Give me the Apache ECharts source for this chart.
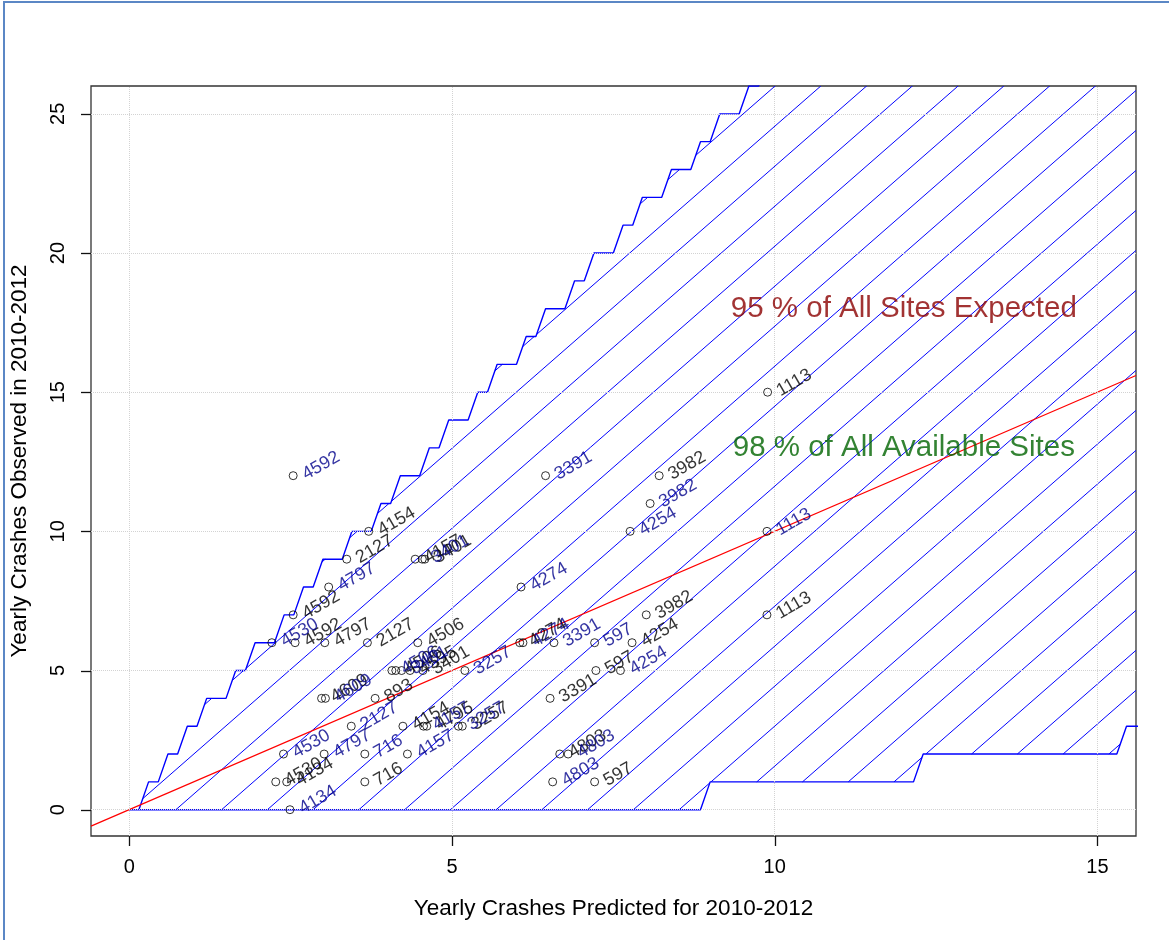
<!DOCTYPE html>
<html>
<head>
<meta charset="utf-8">
<script src="https://cdn.jsdelivr.net/npm/echarts@6/dist/echarts.min.js"></script>
<style>
html,body{margin:0;padding:0;background:#fff;}
#chart{width:1169px;height:940px;}
</style>
</head>
<body>
<div id="chart"></div>
<script>
// ---------------- data ----------------
const xTicks = [0, 5, 10, 15];
const yTicks = [0, 5, 10, 15, 20, 25];
const xTitle = 'Yearly Crashes Predicted for 2010-2012';
const yTitle = 'Yearly Crashes Observed in 2010-2012';

// band limits evaluated on a grid of predicted values (step 0.15)
const gridStep = 0.15;
const upperLimit = [0,0,1,1,2,2,3,3,4,4,4,5,5,6,6,6,7,7,8,8,9,9,9,10,10,10,11,11,12,12,12,13,13,14,14,14,15,15,16,16,16,17,17,18,18,18,19,19,20,20,20,21,21,22,22,22,23,23,23,24,24,25,25,25,26,26,27,27,27,28,28,29,29,29,30,30,31,31,31,32,32,33,33,33,34,34,35,35,35,36,36,37,37,37,38,38,39,39,39,40,40,41,41,41,42,42];
const lowerLimit = [0,0,0,0,0,0,0,0,0,0,0,0,0,0,0,0,0,0,0,0,0,0,0,0,0,0,0,0,0,0,0,0,0,0,0,0,0,0,0,0,0,0,0,0,0,0,0,0,0,0,0,0,0,0,0,0,0,0,0,0,1,1,1,1,1,1,1,1,1,1,1,1,1,1,1,1,1,1,1,1,1,1,2,2,2,2,2,2,2,2,2,2,2,2,2,2,2,2,2,2,2,2,2,3,3,3];

// sites, black labels
const blackX     = [9.89, 9.88, 8.21, 8.01, 3.71, 3.37, 3.69, 4.43, 4.58, 2.54, 2.57, 3.03, 4.47, 6.05, 7.79, 7.23, 7.21, 3.81, 6.52, 2.98, 4.24, 4.61, 5.16, 6.67, 2.27, 2.44, 3.65, 4.13, 4.35, 4.55];
const blackY     = [15, 7, 12, 7, 10, 9, 6, 9, 9, 7, 6, 6, 6, 6, 6, 5, 1, 4, 4, 4, 3, 3, 3, 2, 1, 1, 1, 5, 5, 5];
const blackLabel = ['1113','1113','3982','3982','4154','2127','2127','4157','3401','4592','4592','4797','4506','4274','4254','597','597','893','3391','4609','4154','4795','3257','4803','4530','4134','716','4506','4595','3401'];
// sites, blue labels
const blueX     = [2.54, 6.45, 6.58, 8.07, 7.76, 7.61, 9.88, 4.54, 3.09, 6.07, 6.10, 2.21, 2.39, 7.21, 5.20, 5.10, 3.04, 3.44, 3.65, 4.31, 4.56, 3.02, 6.80, 6.56, 2.49, 4.07, 4.22];
const blueY     = [12, 12, 6, 11, 10, 5, 10, 9, 8, 8, 6, 6, 2, 6, 5, 3, 4, 3, 2, 2, 3, 2, 2, 1, 0, 5, 5];
const blueLabel = ['4592','3391','3391','3982','4254','4254','1113','3401','4797','4274','4274','4530','4530','597','3257','3257','4609','2127','716','4157','4157','4797','4803','4803','4134','4506','3401'];

const noteText  = ['95 % of All Sites Expected', '98 % of All Available Sites'];
const noteX     = [12, 12];
const noteY     = [18, 13];
const noteColor = ['#8B0000', '#006400'];

// ---------------- layout / style ----------------
const X_MIN = -0.592, X_MAX = 15.597, Y_MIN = -0.945, Y_MAX = 26.0;
const FONT = 'Liberation Sans, Arial, sans-serif';
const HATCH_SLOPE = 2.027;     // data units of y per unit of x
const HATCH_SPACING = 0.7088;  // along x
const HATCH_PHASE = 0.0139;
const TICK_LEN = 10;

// polygon (upper limit left->right, lower limit right->left)
const poly = [];
upperLimit.forEach((v, k) => poly.push([+(k * gridStep).toFixed(4), v]));
for (let k = lowerLimit.length - 1; k >= 0; k--) poly.push([+(k * gridStep).toFixed(4), lowerLimit[k]]);

function hatch(poly, m, sp, ph) {
  const segs = [];
  const cs = poly.map(p => p[0] - p[1] / m);
  const cmin = Math.min(...cs), cmax = Math.max(...cs);
  const n0 = Math.ceil((cmin - ph) / sp), n1 = Math.floor((cmax - ph) / sp);
  for (let n = n0; n <= n1; n++) {
    const c = ph + n * sp;
    const xs = [];
    for (let i = 0; i < poly.length; i++) {
      const a = poly[i], b = poly[(i + 1) % poly.length];
      const fa = a[1] - m * (a[0] - c), fb = b[1] - m * (b[0] - c);
      if ((fa > 0) !== (fb > 0)) {
        const t = fa / (fa - fb);
        xs.push(a[0] + t * (b[0] - a[0]));
      }
    }
    xs.sort((p, q) => p - q);
    for (let j = 0; j + 1 < xs.length; j += 2) {
      segs.push([xs[j], m * (xs[j] - c), xs[j + 1], m * (xs[j + 1] - c)]);
    }
  }
  return segs;
}
const hatchSegs = hatch(poly, HATCH_SLOPE, HATCH_SPACING, HATCH_PHASE);

function pts(xs, ys, ls) { return xs.map((x, i) => [x, ys[i], ls[i]]); }

function pointSeries(data, color) {
  return {
    type: 'scatter', data: data, z: 10,
    symbol: 'circle', symbolSize: 8,
    itemStyle: { color: 'rgba(0,0,0,0)', borderColor: '#000', borderWidth: 1 },
    label: {
      show: true, position: 'right', distance: 6, rotate: 30,
      formatter: p => p.data[2], color: color, fontSize: 18, fontFamily: FONT
    },
    labelLayout: { hideOverlap: false },
    emphasis: { disabled: true }, silent: true
  };
}

// tick data: [value, axis] ; 0 = x axis, 1 = y axis
const tickData = xTicks.map(v => [v, 0]).concat(yTicks.map(v => [v, 1]));

const chart = echarts.init(document.getElementById('chart'), null, { renderer: 'canvas' });
chart.setOption({
  animation: false,
  backgroundColor: '#fff',
  graphic: [{
    type: 'rect', shape: { x: 4, y: 2, width: 1200, height: 1000 },
    style: { fill: 'none', stroke: '#5B87C5', lineWidth: 2 }, z: -1
  }],
  grid: { left: 89, top: 86, width: 1047, height: 750, show: true, borderColor: '#333', borderWidth: 1.3, backgroundColor: 'transparent' },
  xAxis: {
    type: 'value', min: X_MIN, max: X_MAX,
    name: xTitle, nameLocation: 'middle', nameGap: 61,
    nameTextStyle: { fontSize: 22.5, color: '#000', fontFamily: FONT },
    axisLine: { show: false, onZero: false },
    axisTick: { show: false },
    axisLabel: { customValues: xTicks, fontSize: 20, color: '#000', fontFamily: FONT, margin: 21 },
    splitLine: { show: false }
  },
  yAxis: {
    type: 'value', min: Y_MIN, max: Y_MAX,
    name: yTitle, nameLocation: 'middle', nameGap: 60, nameRotate: 90,
    nameTextStyle: { fontSize: 22.5, color: '#000', fontFamily: FONT },
    axisLine: { show: false, onZero: false },
    axisTick: { show: false },
    axisLabel: { customValues: yTicks, fontSize: 20, color: '#000', fontFamily: FONT, rotate: 90, margin: 23 },
    splitLine: { show: false }
  },
  series: [
    {
      type: 'line', data: [], silent: true, z: 1,
      markLine: {
        silent: true, symbol: 'none', label: { show: false },
        lineStyle: { color: '#d3d3d3', type: 'dotted', width: 1 },
        data: xTicks.map(v => ({ xAxis: v })).concat(yTicks.map(v => ({ yAxis: v })))
      }
    },
    {
      type: 'custom', data: hatchSegs, clip: true, z: 2, silent: true,
      encode: { x: [0, 2], y: [1, 3] },
      renderItem: (params, api) => {
        const a = api.coord([api.value(0), api.value(1)]);
        const b = api.coord([api.value(2), api.value(3)]);
        return { type: 'line', shape: { x1: a[0], y1: a[1], x2: b[0], y2: b[1] }, style: { stroke: '#0000FF', lineWidth: 1 } };
      }
    },
    {
      type: 'line', data: poly.concat([poly[0]]), symbol: 'none', clip: true, z: 3, silent: true,
      lineStyle: { color: '#0000FF', width: 1.4 }
    },
    {
      type: 'line', data: [[X_MIN, X_MIN], [X_MAX, X_MAX]], symbol: 'none', clip: true, z: 4, silent: true,
      lineStyle: { color: '#FF0000', width: 1.2 }
    },
    pointSeries(pts(blackX, blackY, blackLabel), '#000000'),
    pointSeries(pts(blueX, blueY, blueLabel), '#00008B'),
    {
      type: 'scatter', symbolSize: 0, z: 12, silent: true,
      data: noteText.map((t, i) => ({ value: [noteX[i], noteY[i], t], label: { color: noteColor[i] } })),
      label: { show: true, position: 'inside', formatter: p => p.data.value[2], fontSize: 29.5, fontFamily: FONT }
    },
    {
      // R-style outside ticks, placed through the axes' scales
      type: 'custom', data: tickData, clip: false, z: 20, silent: true,
      dimensions: ['v', 'axis'],
      renderItem: (params, api) => {
        const v = api.value(0), isY = api.value(1) === 1;
        let x1, y1, x2, y2;
        if (!isY) {
          const p = api.coord([v, Y_MIN]);
          x1 = x2 = Math.round(p[0]) + 0.5; y1 = p[1]; y2 = p[1] + TICK_LEN;
        } else {
          const p = api.coord([X_MIN, v]);
          y1 = y2 = Math.round(p[1]) + 0.5; x1 = p[0] - TICK_LEN; x2 = p[0];
        }
        return { type: 'line', shape: { x1, y1, x2, y2 }, style: { stroke: '#111', lineWidth: 1.3 } };
      }
    }
  ]
});
</script>
</body>
</html>
